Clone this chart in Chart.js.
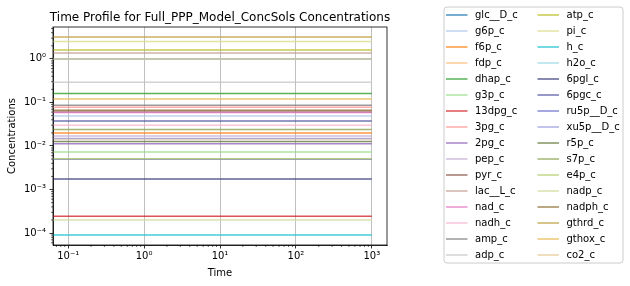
<!DOCTYPE html>
<html>
<head>
<meta charset="utf-8">
<script src="https://cdn.jsdelivr.net/npm/chart.js@4.4.1/dist/chart.umd.min.js"></script>
<style>
html,body{margin:0;padding:0;background:#fff;}
#wrap{width:630px;height:286px;position:relative;}
</style>
</head>
<body>
<div id="wrap"><canvas id="c" width="630" height="286"></canvas></div>
<script>
const times = [0, 0.1, 1000];
const metabolites = ["glc__D_c","g6p_c","f6p_c","fdp_c","dhap_c","g3p_c","13dpg_c","3pg_c","2pg_c","pep_c","pyr_c","lac__L_c","nad_c","nadh_c","amp_c","adp_c","atp_c","pi_c","h_c","h2o_c","6pgl_c","6pgc_c","ru5p__D_c","xu5p__D_c","r5p_c","s7p_c","e4p_c","nadp_c","nadph_c","gthrd_c","gthox_c","co2_c"];
const concentrations = [1.0,0.0486,0.0198,0.0146,0.16,0.00728,0.000243,0.0773,0.0113,0.017,0.0603,1.36,0.0589,0.0301,0.0867,0.29,1.6,2.5,8.99757e-5,1.0,0.00175,0.0375,0.00494,0.0148,0.0127,0.0239,0.00508,0.0002,0.0658,3.2,0.12,1.0];
const palette = ["#1f77b4","#aec7e8","#ff7f0e","#ffbb78","#2ca02c","#98df8a","#d62728","#ff9896","#9467bd","#c5b0d5","#8c564b","#c49c94","#e377c2","#f7b6d2","#7f7f7f","#c7c7c7","#bcbd22","#dbdb8d","#17becf","#9edae5","#393b79","#5254a3","#6b6ecf","#9c9ede","#637939","#8ca252","#b5cf6b","#cedb9c","#8c6d31","#bd9e39","#e7ba52","#e7cb94"];
const xTicks = [0.1, 1, 10, 100, 1000];
const yTicks = [1e-4, 1e-3, 1e-2, 1e-1, 1];

function rgba(hex, a){
  const r=parseInt(hex.slice(1,3),16),g=parseInt(hex.slice(3,5),16),b=parseInt(hex.slice(5,7),16);
  return `rgba(${r},${g},${b},${a})`;
}
const SUP = {'-':'\u207B','0':'\u2070','1':'\u00B9','2':'\u00B2','3':'\u00B3','4':'\u2074','5':'\u2075'};
function sciLabel(v){
  const e = Math.round(Math.log10(v));
  return '10' + String(e).split('').map(c=>SUP[c]).join('');
}
const FONT = "'DejaVu Sans', sans-serif";

const n = metabolites.length;
const datasets = metabolites.map((m,i)=>({
  label: m,
  data: times.map(t=>({x:t, y:concentrations[i]})),
  borderColor: rgba(palette[i],0.8),
  backgroundColor: rgba(palette[i],0.8),
  borderWidth: 1.5,
  pointRadius: 0,
  fill: false,
  tension: 0,
  order: n - i
}));

function minorValues(min,max){
  const out=[];
  for(let e=Math.floor(Math.log10(min)); e<=Math.ceil(Math.log10(max)); e++){
    for(let k=2;k<=9;k++){const v=k*Math.pow(10,e); if(v>=min&&v<=max) out.push(v);}
  }
  return out;
}

const decor = {
  id:'decor',
  afterDraw(chart){
    const ctx=chart.ctx, a=chart.chartArea;
    const xs=chart.scales.x, ys=chart.scales.y;
    ctx.save();
    ctx.strokeStyle='#000'; ctx.lineWidth=0.6;
    ctx.beginPath();
    minorValues(xs.min,xs.max).forEach(v=>{const p=xs.getPixelForValue(v); ctx.moveTo(p,a.bottom); ctx.lineTo(p,a.bottom+2);});
    minorValues(ys.min,ys.max).forEach(v=>{const p=ys.getPixelForValue(v); ctx.moveTo(a.left,p); ctx.lineTo(a.left-2,p);});
    ctx.stroke();
    ctx.lineWidth=0.8; ctx.strokeStyle='#000';
    ctx.strokeRect(a.left,a.top,a.right-a.left,a.bottom-a.top);
    ctx.fillStyle='#000'; ctx.font='12px '+FONT; ctx.textAlign='center'; ctx.textBaseline='alphabetic';
    ctx.fillText('Time Profile for Full_PPP_Model_ConcSols Concentrations',(a.left+a.right)/2,a.top-6);
    const lx=444, ly=7, lw=179, lh=256, r=3;
    ctx.beginPath();
    ctx.moveTo(lx+r,ly); ctx.lineTo(lx+lw-r,ly); ctx.quadraticCurveTo(lx+lw,ly,lx+lw,ly+r);
    ctx.lineTo(lx+lw,ly+lh-r); ctx.quadraticCurveTo(lx+lw,ly+lh,lx+lw-r,ly+lh);
    ctx.lineTo(lx+r,ly+lh); ctx.quadraticCurveTo(lx,ly+lh,lx,ly+lh-r);
    ctx.lineTo(lx,ly+r); ctx.quadraticCurveTo(lx,ly,lx+r,ly); ctx.closePath();
    ctx.fillStyle='rgba(255,255,255,0.8)'; ctx.fill();
    ctx.strokeStyle='#cccccc'; ctx.lineWidth=1; ctx.stroke();
    ctx.font='10px '+FONT; ctx.textAlign='left'; ctx.textBaseline='middle';
    chart.data.datasets.forEach((d,i)=>{
      const col=Math.floor(i/16), row=i%16;
      const x0 = col===0?446:537.5;
      const y = 15+row*16;
      ctx.strokeStyle=d.borderColor; ctx.lineWidth=1.5;
      ctx.beginPath(); ctx.moveTo(x0,y); ctx.lineTo(x0+21.5,y); ctx.stroke();
      ctx.fillStyle='#000';
      ctx.fillText(d.label,x0+29,y);
    });
    ctx.restore();
  }
};

new Chart(document.getElementById('c'),{
  type:'line',
  data:{datasets},
  options:{
    responsive:false,
    animation:false,
    events:[],
    layout:{padding:{left:0,right:243,top:27,bottom:0}},
    plugins:{legend:{display:false},tooltip:{enabled:false},title:{display:false}},
    scales:{
      x:{
        type:'logarithmic',
        min:Math.pow(10,-1.2), max:Math.pow(10,3.2),
        afterBuildTicks(s){ s.ticks = xTicks.map(v=>({value:v})); },
        afterFit(s){ s.height=41; },
        ticks:{callback:(v)=>sciLabel(v), autoSkip:false, maxRotation:0, padding:2, color:'#000', font:{family:FONT,size:10}},
        grid:{color:'#b0b0b0', lineWidth:0.8, drawOnChartArea:true, drawTicks:true, tickLength:3.5, tickColor:'#000', tickWidth:0.8},
        border:{display:true,color:'#000',width:0.8},
        title:{display:true,text:'Time',color:'#000',font:{family:FONT,size:10},padding:{top:0,bottom:7}}
      },
      y:{
        type:'logarithmic',
        min:Math.pow(10,-4.2735), max:Math.pow(10,0.7327),
        afterBuildTicks(s){ s.ticks = yTicks.map(v=>({value:v})); },
        afterFit(s){ s.width=53; },
        ticks:{callback:(v)=>sciLabel(v), autoSkip:false, padding:3.5, color:'#000', font:{family:FONT,size:10}},
        grid:{drawOnChartArea:false, drawTicks:true, tickLength:3.5, tickColor:'#000', tickWidth:0.8},
        border:{display:true,color:'#000',width:0.8},
        title:{display:true,text:'Concentrations',color:'#000',font:{family:FONT,size:10},padding:{top:6,bottom:0}}
      }
    }
  },
  plugins:[decor]
});
</script>
</body>
</html>
